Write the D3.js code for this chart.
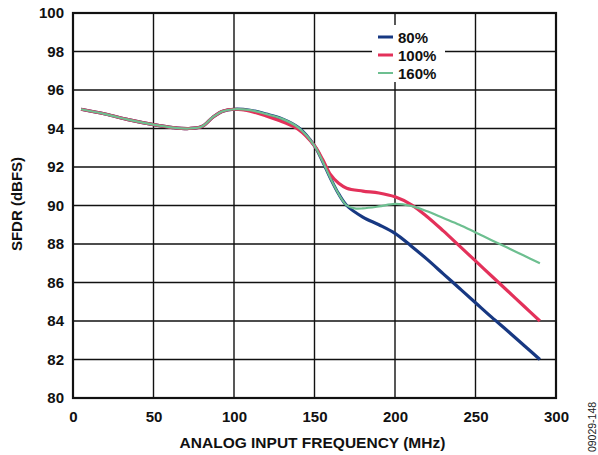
<!DOCTYPE html>
<html><head><meta charset="utf-8">
<script src="https://cdn.jsdelivr.net/npm/d3@7"></script>
<style>body{margin:0;background:#fff}svg{display:block}text{font-family:"Liberation Sans",Arial,sans-serif}</style>
</head><body>
<script>
const xTicks = [0, 50, 100, 150, 200, 250, 300];
const yTicks = [80, 82, 84, 86, 88, 90, 92, 94, 96, 98, 100];
const seriesNames = ["80%", "100%", "160%"];
const seriesColors = ["#173882", "#e3315a", "#6dbf90"];
const commonX = [5, 20, 35, 50, 62, 72, 80, 87, 93, 100, 110, 120, 130, 140];
const commonY = [95.0, 94.75, 94.45, 94.2, 94.05, 94.0, 94.1, 94.6, 94.9, 95.0, 94.95, 94.75, 94.5, 94.05];
const redHeadY = [95.0, 94.75, 94.45, 94.2, 94.05, 94.0, 94.1, 94.6, 94.9, 95.0, 94.9, 94.65, 94.35, 93.95];
const tailX80 = [150, 155, 160, 165, 170, 180, 190, 200, 210, 220, 230, 240, 250, 260, 270, 280, 290];
const tailY80 = [93.1, 92.3, 91.4, 90.6, 90.0, 89.4, 89.0, 88.55, 87.9, 87.2, 86.45, 85.7, 84.95, 84.2, 83.48, 82.74, 82.0];
const tailX100 = [150, 155, 160, 165, 170, 180, 190, 200, 210, 220, 230, 240, 250, 260, 270, 280, 290];
const tailY100 = [93.1, 92.4, 91.6, 91.15, 90.9, 90.75, 90.65, 90.45, 90.05, 89.42, 88.68, 87.9, 87.12, 86.34, 85.56, 84.78, 84.0];
const tailX160 = [150, 155, 160, 165, 170, 175, 180, 190, 200, 210, 220, 230, 240, 250, 260, 270, 280, 290];
const tailY160 = [93.1, 92.3, 91.4, 90.6, 90.0, 89.85, 89.85, 89.95, 90.08, 89.98, 89.7, 89.35, 89.0, 88.6, 88.2, 87.8, 87.4, 87.0];

const W = 598, H = 455;
const m = {left: 73, top: 13, right: 556, bottom: 398};
const FS = 15;
const svg = d3.select("body").append("svg").attr("width", W).attr("height", H);
const x = d3.scaleLinear().domain([0, 300]).range([m.left, m.right]);
const y = d3.scaleLinear().domain([80, 100]).range([m.bottom, m.top]);

const grid = svg.append("g");
grid.selectAll(".vx").data(xTicks.slice(1, -1)).join("line")
  .attr("x1", d => x(d)).attr("x2", d => x(d)).attr("y1", m.top).attr("y2", m.bottom)
  .attr("stroke", "#111").attr("stroke-width", 1.4);
grid.selectAll(".hy").data(yTicks.slice(1, -1)).join("line")
  .attr("y1", d => y(d)).attr("y2", d => y(d)).attr("x1", m.left).attr("x2", m.right)
  .attr("stroke", "#111").attr("stroke-width", 1.4);

const xAxis = svg.append("g").attr("transform", `translate(0,${m.bottom})`)
  .call(d3.axisBottom(x).tickValues(xTicks).tickSize(0).tickPadding(13));
xAxis.select(".domain").remove();
xAxis.selectAll("text").attr("font-size", FS).attr("font-weight", "bold").attr("fill", "#111")
  .attr("font-family", "Liberation Sans, Arial, sans-serif");
const yAxis = svg.append("g").attr("transform", `translate(${m.left},0)`)
  .call(d3.axisLeft(y).tickValues(yTicks).tickSize(0).tickPadding(9));
yAxis.select(".domain").remove();
yAxis.selectAll("text").attr("font-size", FS).attr("font-weight", "bold").attr("fill", "#111")
  .attr("font-family", "Liberation Sans, Arial, sans-serif");

const datasets = [
  commonX.map((d, i) => [d, commonY[i]]).concat(tailX80.map((d, i) => [d, tailY80[i]])),
  commonX.map((d, i) => [d, redHeadY[i]]).concat(tailX100.map((d, i) => [d, tailY100[i]])),
  commonX.map((d, i) => [d, commonY[i]]).concat(tailX160.map((d, i) => [d, tailY160[i]]))
];
const widths = [3.2, 3.2, 2.2];
const line = d3.line().x(d => x(d[0])).y(d => y(d[1])).curve(d3.curveCatmullRom.alpha(0.5));

// legend background (covers grid)
svg.append("rect").attr("x", 372).attr("y", 25).attr("width", 73).attr("height", 57).attr("fill", "#fff");

datasets.forEach((ds, i) => {
  svg.append("path").datum(ds).attr("d", line).attr("fill", "none")
    .attr("stroke", seriesColors[i]).attr("stroke-width", widths[i]).attr("stroke-linejoin", "round");
});

svg.append("rect").attr("x", m.left).attr("y", m.top).attr("width", m.right - m.left).attr("height", m.bottom - m.top)
  .attr("fill", "none").attr("stroke", "#111").attr("stroke-width", 2.2);

const leg = svg.append("g");
seriesNames.forEach((n, i) => {
  const ly = 37 + i * 18;
  leg.append("line").attr("x1", 378).attr("x2", 393).attr("y1", ly).attr("y2", ly)
    .attr("stroke", seriesColors[i]).attr("stroke-width", i === 2 ? 2 : 3);
  leg.append("text").attr("x", 398).attr("y", ly + 5.5).text(n)
    .attr("font-size", FS).attr("font-weight", "bold").attr("fill", "#111");
});

svg.append("text").attr("x", 312.5).attr("y", 447.5).attr("text-anchor", "middle")
  .attr("font-size", 15.5).attr("font-weight", "bold").attr("fill", "#111").text("ANALOG INPUT FREQUENCY (MHz)");
svg.append("text").attr("transform", `translate(22,204) rotate(-90)`).attr("text-anchor", "middle")
  .attr("font-size", FS).attr("font-weight", "bold").attr("fill", "#111").text("SFDR (dBFS)");
svg.append("text").attr("transform", `translate(596,427) rotate(-90)`).attr("text-anchor", "middle")
  .attr("font-size", 10.5).attr("fill", "#222").text("09029-148");
</script>
</body></html>
